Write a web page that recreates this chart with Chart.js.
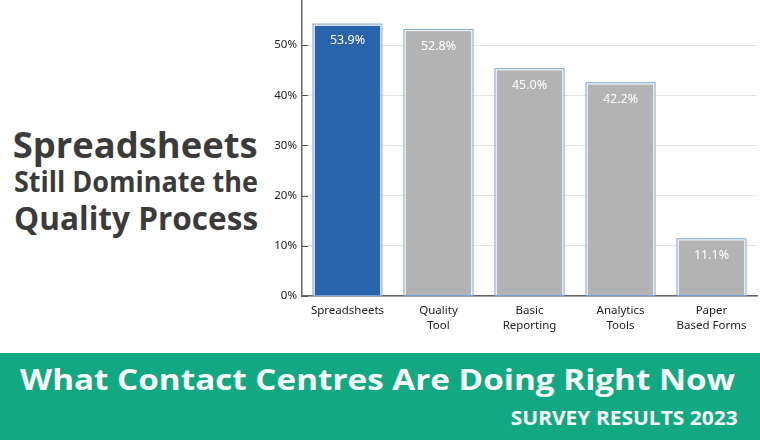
<!DOCTYPE html>
<html>
<head>
<meta charset="utf-8">
<script src="https://cdn.jsdelivr.net/npm/chart.js@4/dist/chart.umd.min.js"></script>
<style>
  html, body { margin: 0; padding: 0; background: #fff; }
  body { width: 760px; height: 440px; position: relative; overflow: hidden; font-family: "Open Sans", sans-serif; }
  .t { position: absolute; white-space: nowrap; font-weight: 700; line-height: 1; }
  .left { color: #3b3b3b; right: 502px; transform-origin: right center; }
  #banner { position: absolute; left: 0; top: 353px; width: 760px; height: 87px; background: #12a982; }
  .w { color: #f8fbf9; }
  #chartBox { position: absolute; left: 262px; top: 0; width: 498px; height: 345px; }
</style>
</head>
<body>
<div class="t left" id="h1" style="font-size:35px; top:127px;">Spreadsheets</div>
<div class="t left" id="h2" style="font-size:28px; top:167px;">Still Dominate the</div>
<div class="t left" id="h3" style="font-size:33px; top:201px;">Quality Process</div>
<div id="banner"></div>
<div class="t w" id="b1" style="font-size:28px; top:365px; left:20px; transform-origin:left center;">What Contact Centres Are Doing Right Now</div>
<div class="t w" id="b2" style="font-size:19px; top:409px; right:22px; transform-origin:right center;">SURVEY RESULTS 2023</div>
<div id="chartBox"><canvas id="c"></canvas></div>
<script>
const categories = [["Spreadsheets"], ["Quality", "Tool"], ["Basic", "Reporting"], ["Analytics", "Tools"], ["Paper", "Based Forms"]];
const values = [53.9, 52.8, 45.0, 42.2, 11.1];
const yTicks = [0, 10, 20, 30, 40, 50];
const yMax = 59;
const barColors = ["#2963ab", "#b3b3b3", "#b3b3b3", "#b3b3b3", "#b3b3b3"];

function fit(id, w) {
  const el = document.getElementById(id);
  const cw = el.getBoundingClientRect().width;
  el.style.transform = 'scaleX(' + (w / cw) + ')';
}
fit('h1', 245); fit('h2', 244); fit('h3', 244);
fit('b1', 715); fit('b2', 227);

const barDecor = {
  id: 'barDecor',
  afterDatasetsDraw(chart) {
    const ctx = chart.ctx;
    const meta = chart.getDatasetMeta(0);
    ctx.save();
    meta.data.forEach((bar, i) => {
      const p = bar.getProps(['x', 'y', 'base', 'width'], true);
      const l = p.x - p.width / 2;
      ctx.lineWidth = 1;
      ctx.strokeStyle = '#ffffff';
      ctx.strokeRect(l - 0.5, p.y - 0.5, p.width + 1, p.base - p.y + 0.5);
      ctx.strokeStyle = '#77a0d8';
      ctx.strokeRect(l - 1.5, p.y - 1.5, p.width + 3, p.base - p.y + 1.5);
      ctx.fillStyle = '#ffffff';
      ctx.font = '12.5px "Noto Sans", sans-serif';
      ctx.textAlign = 'center';
      ctx.textBaseline = 'middle';
      ctx.fillText(values[i].toFixed(1) + '%', p.x, p.y + 15);
    });
    const ys = chart.scales.y;
    ctx.strokeStyle = '#555';
    ctx.lineWidth = 1;
    yTicks.forEach(v => {
      const py = Math.round(ys.getPixelForValue(v)) + 0.5;
      ctx.beginPath();
      ctx.moveTo(ys.right, py);
      ctx.lineTo(ys.right + 6, py);
      ctx.stroke();
    });
    ctx.restore();
  }
};

new Chart(document.getElementById('c'), {
  type: 'bar',
  data: {
    labels: categories,
    datasets: [{
      data: values,
      backgroundColor: barColors,
      borderWidth: 0,
      categoryPercentage: 1,
      barPercentage: 0.725
    }]
  },
  options: {
    responsive: true,
    maintainAspectRatio: false,
    animation: false,
    layout: { padding: { top: 0, right: 3, left: 0, bottom: 0 } },
    plugins: { legend: { display: false }, tooltip: { enabled: false } },
    scales: {
      x: {
        grid: { display: false, drawTicks: false, tickLength: 0 },
        border: { display: true, color: '#666', width: 1.5 },
        ticks: { color: '#222', font: { family: 'Noto Sans', size: 11.5, lineHeight: 1.3 }, padding: 7, maxRotation: 0, autoSkip: false },
        afterFit: s => { s.height = 49; s.paddingLeft = 0; s.paddingRight = 0; }
      },
      y: {
        min: 0,
        max: yMax,
        afterBuildTicks: s => { s.ticks = yTicks.concat([yMax]).map(v => ({ value: v })); },
        grid: {
          drawTicks: false,
          color: c => (c.tick && c.tick.value === yMax) ? 'rgba(0,0,0,0)' : '#e3e3e3',
          lineWidth: 1
        },
        border: { display: true, color: '#666', width: 1.5 },
        ticks: {
          color: '#222',
          font: { family: 'Noto Sans', size: 11.5 },
          padding: 5,
          callback: v => yTicks.includes(v) ? v + '%' : null
        },
        afterFit: s => { s.width = 40; s.paddingTop = 0; s.paddingBottom = 0; }
      }
    }
  },
  plugins: [barDecor]
});
</script>
</body>
</html>
